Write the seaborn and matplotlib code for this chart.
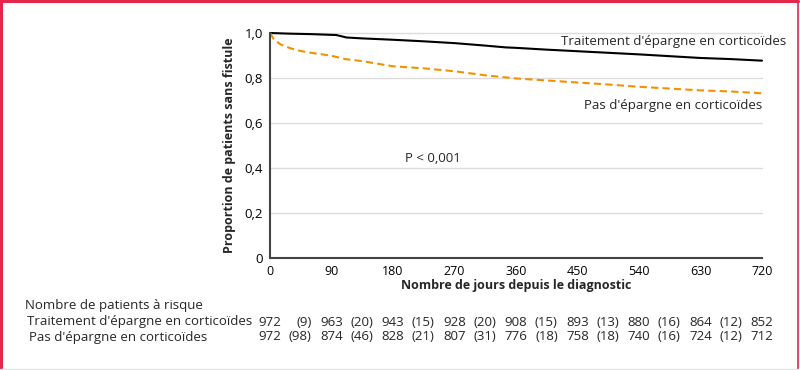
"""
Kaplan-Meier style chart: proportion of patients without fistula,
steroid-sparing treatment vs no steroid sparing, with risk table below.
"""

import matplotlib
matplotlib.use("Agg")
import matplotlib.pyplot as plt
import matplotlib.transforms as mtransforms
from matplotlib.lines import Line2D
import pandas as pd
import seaborn as sns

# -- Data ----------------------------------------------------------------------

days_sparing = [0, 30, 60, 97, 112, 135, 180, 225, 270, 315, 345, 360,
                405, 450, 495, 540, 585, 630, 675, 720]
surv_sparing = [1.0, 0.997, 0.995, 0.991, 0.980, 0.976, 0.970, 0.963, 0.955, 0.944,
                0.936, 0.934, 0.926, 0.919, 0.912, 0.905, 0.897, 0.889, 0.884, 0.877]

days_no_sparing = [0, 5, 15, 30, 45, 60, 90, 110, 135, 180, 225, 270, 315,
                   360, 405, 450, 495, 540, 585, 630, 675, 720]
surv_no_sparing = [1.0, 0.975, 0.950, 0.932, 0.920, 0.912, 0.899, 0.884, 0.875,
                   0.852, 0.843, 0.830, 0.812, 0.798, 0.789, 0.780, 0.771, 0.761,
                   0.753, 0.745, 0.740, 0.732]

label_sparing = "Traitement d'épargne en corticoïdes"
label_no_sparing = "Pas d'épargne en corticoïdes"

x_ticks = [0, 90, 180, 270, 360, 450, 540, 630, 720]
y_ticks = [0, 0.2, 0.4, 0.6, 0.8, 1.0]
y_tick_labels = ["0", "0,2", "0,4", "0,6", "0,8", "1,0"]

at_risk_sparing = [972, 963, 943, 928, 908, 893, 880, 864, 852]
events_sparing = [9, 20, 15, 20, 15, 13, 16, 12]
at_risk_no_sparing = [972, 874, 828, 807, 776, 758, 740, 724, 712]
events_no_sparing = [98, 46, 21, 31, 18, 18, 16, 12]

ORANGE = "#F39200"
BORDER = "#E4284C"

# -- Figure --------------------------------------------------------------------

sns.set_theme(style="white")
plt.rcParams["font.family"] = ["Open Sans", "DejaVu Sans"]
plt.rcParams["font.size"] = 9

df = pd.concat([
    pd.DataFrame({"day": days_sparing, "surv": surv_sparing, "group": label_sparing}),
    pd.DataFrame({"day": days_no_sparing, "surv": surv_no_sparing, "group": label_no_sparing}),
], ignore_index=True)

fig = plt.figure(figsize=(8, 3.7), dpi=100)
ax = fig.add_axes([270 / 800, 1 - 258 / 370, 492 / 800, 225 / 370])

# light horizontal grid
for y in y_ticks[1:]:
    ax.axhline(y, color="#dcdcdc", lw=1, zorder=0, clip_on=False)

sns.lineplot(data=df, x="day", y="surv", hue="group", style="group",
             palette={label_sparing: "black", label_no_sparing: ORANGE},
             dashes={label_sparing: "", label_no_sparing: (3.5, 2)},
             lw=1.5, legend=False, ax=ax, estimator=None, sort=False)
for line in ax.get_lines():
    line.set_clip_on(False)

ax.set_xlim(0, 720)
ax.set_ylim(0, 1)
ax.set_xticks(x_ticks)
ax.set_xticklabels([str(d) for d in x_ticks], fontsize=9)
ax.set_yticks(y_ticks)
ax.set_yticklabels(y_tick_labels, fontsize=9.5)
ax.tick_params(axis="both", direction="out", length=3.5, width=1.2,
               color="#444444", pad=1.5, labelcolor="black")
for side in ("top", "right"):
    ax.spines[side].set_visible(False)
for side in ("left", "bottom"):
    ax.spines[side].set_color("#444444")
    ax.spines[side].set_linewidth(1.5)

ax.set_xlabel("Nombre de jours depuis le diagnostic", fontsize=9, fontweight="bold", labelpad=1)
ax.set_ylabel("Proportion de patients sans fistule", fontsize=9, fontweight="bold", labelpad=6)

ax.text(590, 0.961, label_sparing, ha="center", va="center", fontsize=9.5, clip_on=False)
ax.text(721, 0.68, label_no_sparing, ha="right", va="center", fontsize=9.5, clip_on=False)
ax.text(198, 0.444, "P < 0,001", ha="left", va="center", fontsize=9.5)

# -- Risk table ----------------------------------------------------------------

row_y = [1 - 322 / 370, 1 - 337 / 370]
fig.text(25 / 800, 1 - 305 / 370, "Nombre de patients à risque", ha="left", va="center", fontsize=9.5)
fig.text(27 / 800, row_y[0], label_sparing, ha="left", va="center", fontsize=9.5)
fig.text(29 / 800, row_y[1], label_no_sparing, ha="left", va="center", fontsize=9.5)

blend = mtransforms.blended_transform_factory(ax.transData, fig.transFigure)
paren = blend + mtransforms.ScaledTranslation(11 / 100, 0, fig.dpi_scale_trans)
mids = [(a + b) / 2 for a, b in zip(x_ticks[:-1], x_ticks[1:])]

for yy, counts, events in [(row_y[0], at_risk_sparing, events_sparing),
                           (row_y[1], at_risk_no_sparing, events_no_sparing)]:
    for d, n in zip(x_ticks, counts):
        ax.text(d, yy, str(n), transform=blend, ha="center", va="center",
                fontsize=9.5, clip_on=False)
    for m, e in zip(mids, events):
        ax.text(m, yy, f"({e})", transform=paren, ha="right", va="center",
                fontsize=9.5, clip_on=False)

# -- Frame ---------------------------------------------------------------------

fig.add_artist(Line2D([0.5 / 800, 0.5 / 800], [0, 1], color=BORDER, lw=2.2, transform=fig.transFigure))
fig.add_artist(Line2D([0, 797.5 / 800], [1 - 0.5 / 370] * 2, color=BORDER, lw=2.2, transform=fig.transFigure))
fig.add_artist(Line2D([797.5 / 800] * 2, [0, 1], color=BORDER, lw=1.2, transform=fig.transFigure))
fig.add_artist(Line2D([0, 797.5 / 800], [1.5 / 370] * 2, color="#e6e6e6", lw=1, transform=fig.transFigure))

fig.savefig("out.png", dpi=100)
